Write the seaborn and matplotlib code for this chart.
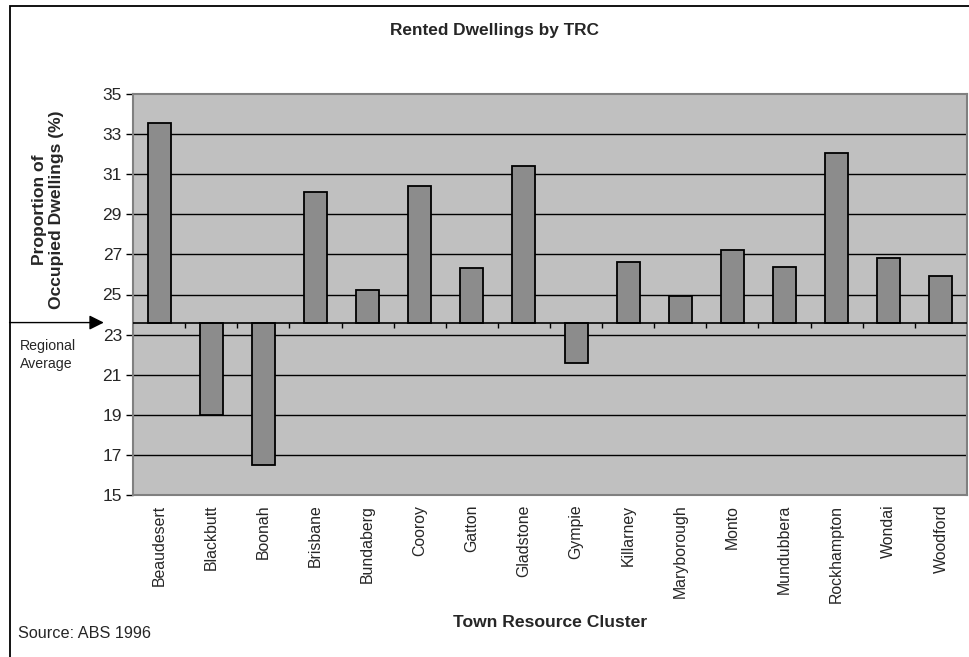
import matplotlib
matplotlib.use("Agg")
import matplotlib.pyplot as plt
import matplotlib.patches as mpatches
import numpy as np
import pandas as pd
import seaborn as sns

# Data
###############################################################################

towns = ['Beaudesert', 'Blackbutt', 'Boonah', 'Brisbane', 'Bundaberg', 'Cooroy',
         'Gatton', 'Gladstone', 'Gympie', 'Killarney', 'Maryborough', 'Monto',
         'Mundubbera', 'Rockhampton', 'Wondai', 'Woodford']
rented = [33.55, 19.0, 16.5, 30.1, 25.2, 30.4, 26.3, 31.4, 21.6, 26.6,
          24.95, 27.2, 26.35, 32.05, 26.8, 25.9]
regional_avg = 23.6
yticks = [15, 17, 19, 21, 23, 25, 27, 29, 31, 33, 35]

df = pd.DataFrame({'Town': towns, 'Rented': rented})
df['Diff'] = df['Rented'] - regional_avg

# Style
###############################################################################

sns.set_style('white')
plt.rcParams['font.family'] = ['Liberation Sans', 'DejaVu Sans']

fig = plt.figure(figsize=(9.69, 6.57), dpi=100)
ax = fig.add_axes([133 / 969, 1 - 495 / 657, 834 / 969, 401 / 657])
ax.set_facecolor('#c0c0c0')

# Plot
###############################################################################

for yv in yticks[1:-1]:
    ax.axhline(yv, color='k', lw=1, zorder=1)

sns.barplot(data=df, x='Town', y='Diff', bottom=regional_avg,
            color='#8c8c8c', saturation=1, edgecolor='k', linewidth=1.3,
            width=0.44, ax=ax, zorder=3)

# category axis drawn at the regional average
ax.axhline(regional_avg, color='k', lw=1.2, zorder=4)
ax.vlines(np.arange(0.5, len(towns) - 0.5), regional_avg - 0.25, regional_avg,
          colors='k', lw=1, zorder=4)

ax.set_xlim(-0.5, len(towns) - 0.5)
ax.set_ylim(15, 35)
ax.set_yticks(yticks)
ax.tick_params(axis='y', direction='out', length=5, width=1, color='k',
               labelsize=12.5, pad=3, left=True)
ax.tick_params(axis='x', length=0, labelsize=11.4, pad=7)
ax.set_xticks(range(len(towns)))
ax.set_xticklabels(towns, rotation=90)
ax.set_xlabel('Town Resource Cluster', fontsize=12.6, fontweight='bold', labelpad=9)
ax.set_ylabel('')
for s in ax.spines.values():
    s.set_color('#808080')
    s.set_linewidth(1.5)

# Annotations
###############################################################################

fig.text(495 / 969, 1 - 31 / 657, 'Rented Dwellings by TRC', ha='center',
         va='center', fontsize=12.4, fontweight='bold')
fig.text(48 / 969, 1 - 210 / 657, 'Proportion of\nOccupied Dwellings (%)',
         rotation=90, ha='center', va='center', multialignment='center',
         fontsize=12.6, fontweight='bold', linespacing=1.15)
fig.text(18 / 969, 1 - 634 / 657, 'Source: ABS 1996', ha='left', va='center',
         fontsize=11.7)
fig.text(20 / 969, 1 - 355 / 657, 'Regional\nAverage', ha='left', va='center',
         fontsize=10.2, linespacing=1.45)

ax.annotate('', xy=(-0.035, regional_avg), xytext=(-0.148, regional_avg),
            xycoords=ax.get_yaxis_transform(),
            textcoords=ax.get_yaxis_transform(),
            arrowprops=dict(arrowstyle='-|>', color='k', lw=1,
                            mutation_scale=22, shrinkA=0, shrinkB=0),
            annotation_clip=False)

fig.add_artist(mpatches.Rectangle((10 / 969, -0.1), 1.2, 1 - 6 / 657 + 0.1,
                                  transform=fig.transFigure, fill=False,
                                  edgecolor='k', lw=1.3))

plt.savefig('out.png', dpi=100)
